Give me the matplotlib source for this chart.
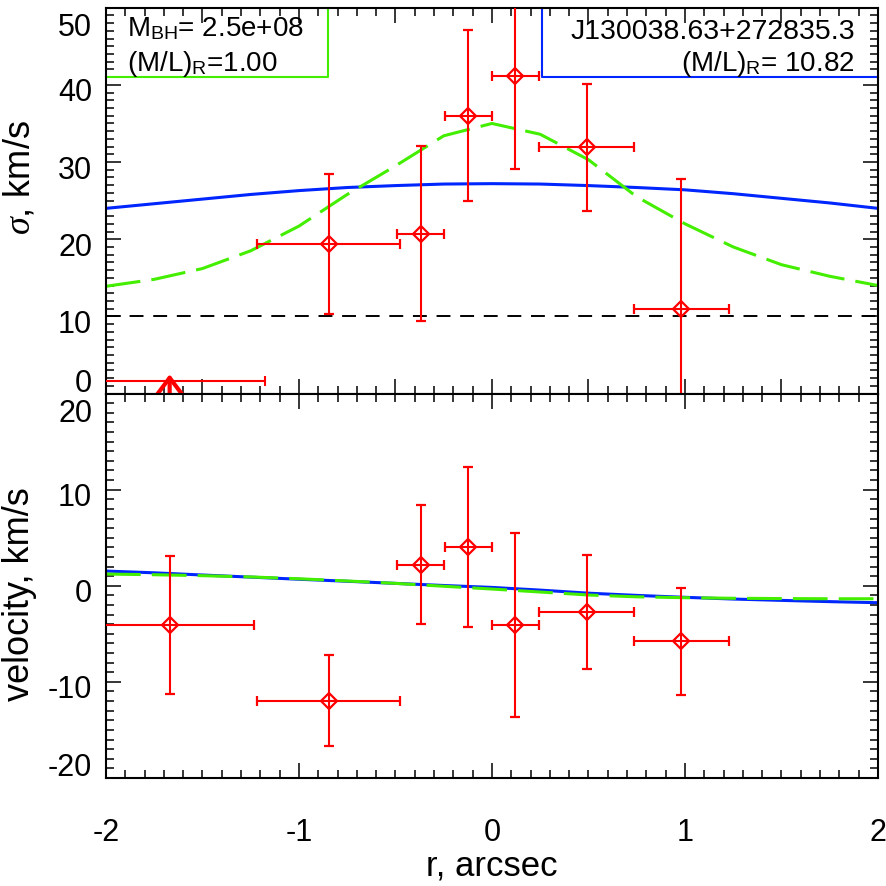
import matplotlib
matplotlib.use('Agg')
import matplotlib.pyplot as plt
from matplotlib.ticker import MultipleLocator
from matplotlib.transforms import ScaledTranslation

plt.rcParams['font.family'] = ['Liberation Sans', 'DejaVu Sans']
plt.rcParams['mathtext.fontset'] = 'custom'
plt.rcParams['mathtext.rm'] = 'Liberation Sans'
plt.rcParams['mathtext.it'] = 'Liberation Serif:italic'
plt.rcParams['lines.scale_dashes'] = False

RED = '#ff0000'
BLUE = '#0026ff'
GREEN = '#44ee00'

# model curves (r in arcsec)
r_model = [-2.0, -1.75, -1.5, -1.25, -1.0, -0.75, -0.5, -0.25, 0.0,
           0.25, 0.5, 0.75, 1.0, 1.25, 1.5, 1.75, 2.0]
sig_blue = [24.0, 24.6, 25.2, 25.8, 26.3, 26.7, 26.95, 27.15, 27.2,
            27.15, 26.95, 26.7, 26.4, 25.9, 25.3, 24.7, 24.0]
sig_green = [13.9, 14.8, 16.2, 18.5, 21.7, 25.8, 29.5, 33.4, 35.0,
             33.6, 30.3, 25.5, 22.0, 19.0, 16.7, 15.2, 14.0]
vel_blue = [1.53, 1.35, 1.12, 0.9, 0.68, 0.47, 0.25, 0.03, -0.17,
            -0.45, -0.77, -1.0, -1.2, -1.38, -1.52, -1.65, -1.76]
vel_green = [1.22, 1.15, 1.05, 0.92, 0.73, 0.5, 0.25, -0.05, -0.34,
             -0.65, -0.96, -1.15, -1.24, -1.3, -1.33, -1.35, -1.35]

# measured dispersion
r_sig = [-0.846, -0.370, -0.123, 0.122, 0.49, 0.98]
r_sig_err = [0.37, 0.123, 0.121, 0.122, 0.247, 0.246]
sig = [19.4, 20.7, 36.0, 41.15, 31.9, 10.9]
sig_err = [9.05, 11.35, 11.1, 12.1, 8.2, 16.9]

# unresolved dispersion (limit)
r_lim = -1.67
r_lim_err = 0.495
sig_lim = 1.64
sig_arrow = 2.5

# measured velocity
r_vel = [-1.67, -0.846, -0.370, -0.123, 0.122, 0.49, 0.98]
r_vel_err = [0.435, 0.37, 0.123, 0.121, 0.122, 0.247, 0.246]
vel = [-4.08, -11.95, 2.2, 4.06, -4.1, -2.73, -5.78]
vel_err = [7.18, 4.75, 6.2, 8.3, 9.6, 5.93, 5.58]

sig_floor = 10

fig = plt.figure(figsize=(8.86, 8.86), dpi=100)
ax1 = fig.add_axes([0.1196, 0.5558, 0.8713, 0.4355])
ax2 = fig.add_axes([0.1196, 0.1219, 0.8713, 0.4339])

ebkw = dict(fmt='D', ms=8, mfc='none', mec=RED, mew=1.6, ecolor=RED,
            elinewidth=1.5, capsize=3.5, capthick=1.5, zorder=5)

# top panel
ax1.plot(r_model, sig_blue, color=BLUE, lw=2.2)
ax1.plot(r_model, sig_green, color=GREEN, lw=2.2, dashes=(25, 8))
ax1.axhline(sig_floor, color='black', lw=1.4, dashes=(10, 7))
ax1.errorbar(r_sig, sig, xerr=r_sig_err, yerr=sig_err, **ebkw)
ax1.errorbar([r_lim], [sig_lim], xerr=[r_lim_err], fmt='none', ecolor=RED,
             elinewidth=1.5, capsize=3.5, capthick=1.5, zorder=5)
ax1.annotate('', xy=(r_lim, sig_arrow), xytext=(r_lim, 0),
             arrowprops=dict(arrowstyle='->, head_length=0.6, head_width=0.45',
                             color=RED, lw=3, mutation_scale=20,
                             shrinkA=0, shrinkB=0))
ax1.set_xlim(-2, 2)
ax1.set_ylim(0, 50)
ax1.set_yticks([0, 10, 20, 30, 40, 50])
ax1.yaxis.set_minor_locator(MultipleLocator(1))
ax1.set_ylabel(r'$\sigma$, km/s', fontsize=26)
ax1.yaxis.set_label_coords(-0.089, 0.56)

# legend boxes
ax1.plot([0, 0.287, 0.287], [0.82, 0.82, 1.0], transform=ax1.transAxes,
         color=GREEN, lw=1.5, clip_on=False)
ax1.plot([0.565, 0.565, 1.0], [1.0, 0.82, 0.82], transform=ax1.transAxes,
         color=BLUE, lw=1.5, clip_on=False)
ax1.text(0.027, 0.927, r'M$_{\rm BH}$= 2.5e+08', transform=ax1.transAxes,
         fontsize=20, va='baseline', ha='left')
ax1.text(0.027, 0.836, r'(M/L)$_{\rm R}$=1.00', transform=ax1.transAxes,
         fontsize=20, va='baseline', ha='left')
ax1.text(0.970, 0.920, 'J130038.63+272835.3', transform=ax1.transAxes,
         fontsize=20.5, va='baseline', ha='right')
ax1.text(0.970, 0.837, r'(M/L)$_{\rm R}$= 10.82', transform=ax1.transAxes,
         fontsize=20, va='baseline', ha='right')

# bottom panel
ax2.plot(r_model, vel_blue, color=BLUE, lw=2.2)
ax2.plot(r_model, vel_green, color=GREEN, lw=2.2, dashes=(25, 8))
ax2.errorbar(r_vel, vel, xerr=r_vel_err, yerr=vel_err, **ebkw)
ax2.set_xlim(-2, 2)
ax2.set_ylim(-20, 20)
ax2.set_yticks([-20, -10, 0, 10, 20])
ax2.yaxis.set_minor_locator(MultipleLocator(1))
ax2.set_xticks([-2, -1, 0, 1, 2])
ax2.set_xticklabels(['-2', '-1', '0', '1', '2'])
ax2.set_yticklabels(['-20', '-10', '0', '10', '20'])
ax2.set_xlabel('r, arcsec', fontsize=25, labelpad=1)
ax2.set_ylabel('velocity, km/s', fontsize=26)
ax2.yaxis.set_label_coords(-0.089, 0.479)

for ax in (ax1, ax2):
    ax.xaxis.set_minor_locator(MultipleLocator(0.1))
    ax.tick_params(which='both', direction='in', top=True, right=True,
                   width=1.1, labelsize=22)
    ax.tick_params(which='major', length=11)
    ax.tick_params(which='minor', length=6)
    ax.tick_params(axis='y', pad=10)
    for s in ax.spines.values():
        s.set_linewidth(1.5)
ax1.tick_params(labelbottom=False)
ax2.tick_params(axis='x', pad=29)

# IDL-like tick label placement: end labels pulled inside, all a bit lower
shift = ScaledTranslation(0, -0.05, fig.dpi_scale_trans)
for ax in (ax1, ax2):
    lab = ax.get_yticklabels()
    lab[0].set_va('bottom')
    lab[-1].set_va('top')
    for t in lab:
        t.set_transform(t.get_transform() + shift)

fig.savefig('out.png', dpi=100)
